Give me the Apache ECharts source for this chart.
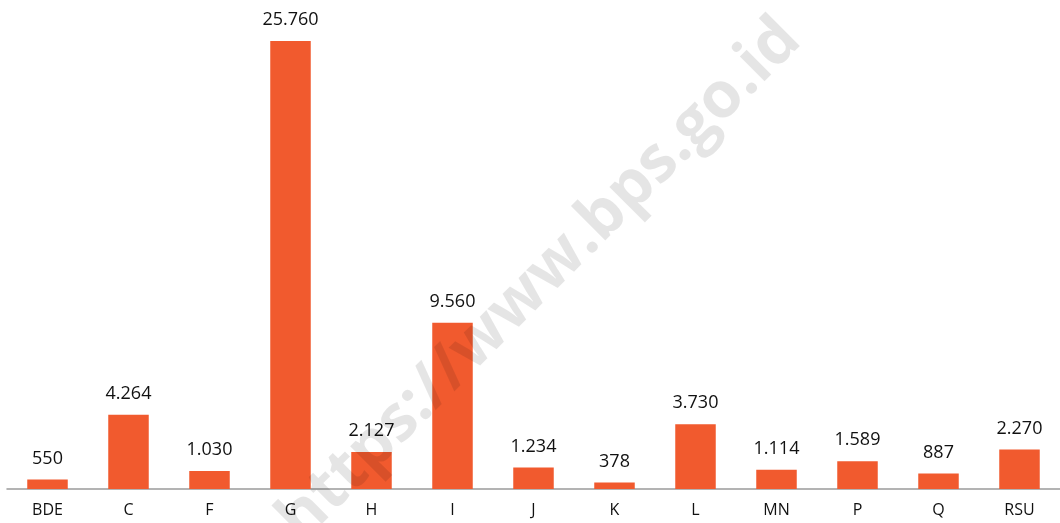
<!DOCTYPE html>
<html>
<head>
<meta charset="utf-8">
<script src="https://cdn.jsdelivr.net/npm/echarts@6/dist/echarts.min.js"></script>
<style>
  html, body { margin: 0; padding: 0; background: #fff; }
  #chart { width: 1060px; height: 523px; }
</style>
</head>
<body>
<div id="chart"></div>
<script>
const categories = ['BDE', 'C', 'F', 'G', 'H', 'I', 'J', 'K', 'L', 'MN', 'P', 'Q', 'RSU'];
const values = [550, 4264, 1030, 25760, 2127, 9560, 1234, 378, 3730, 1114, 1589, 887, 2270];

// titik sebagai pemisah ribuan
function fmt(v) {
  return String(v).replace(/\B(?=(\d{3})+(?!\d))/g, '.');
}

let myChart = echarts.init(document.getElementById('chart'));

let option = {
  animation: false,
  grid: {
    left: 7,
    top: 41,
    bottom: 34,
    width: 1056
  },
  xAxis: {
    type: 'category',
    data: categories,
    axisLine: { lineStyle: { color: '#9a9a9a', width: 1.5 } },
    axisTick: { length: 5, lineStyle: { color: '#9a9a9a', width: 1.5 } },
    axisLabel: {
      color: '#111',
      fontSize: 16,
      fontFamily: 'Open Sans',
      margin: 13
    }
  },
  yAxis: {
    type: 'value',
    min: 0,
    max: 'dataMax',
    show: false,
    splitLine: { show: false }
  },
  series: [
    {
      type: 'bar',
      data: values,
      barWidth: '50%',
      itemStyle: { color: '#f15a2e' },
      label: {
        show: true,
        position: 'top',
        distance: 12,
        color: '#111',
        fontSize: 18,
        fontFamily: 'Open Sans',
        formatter: p => fmt(p.value)
      }
    }
  ],
  graphic: [
    {
      // watermark
      type: 'text',
      x: 540,
      y: 280,
      rotation: Math.PI / 4,
      z: 100,
      silent: true,
      style: {
        text: 'https://www.bps.go.id',
        fontSize: 64,
        fontWeight: 'bold',
        fontFamily: 'Open Sans',
        fill: 'rgba(0,0,0,0.1)',
        align: 'center',
        verticalAlign: 'middle'
      }
    }
  ]
};

option && myChart.setOption(option);
</script>
</body>
</html>
